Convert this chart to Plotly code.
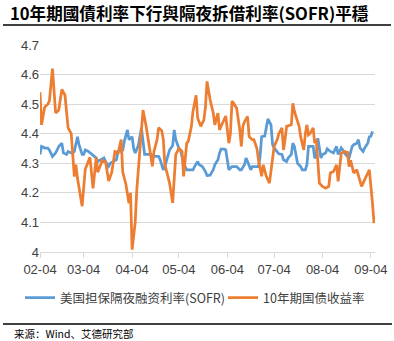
import plotly.graph_objects as go

YEAR = "2025-"

# 10Y Treasury yield (orange)
t10_dates = ["02-04","02-05","02-07","02-09","02-10","02-12","02-14","02-16","02-18","02-20","02-22","02-24","02-26","02-27","02-28",
             "03-03","03-05","03-08","03-10","03-12","03-13","03-16","03-18","03-20","03-22","03-24","03-26","03-28","03-29","03-31",
             "04-02","04-03","04-04","04-06","04-07","04-09","04-11","04-13","04-15","04-17","04-18","04-20","04-21","04-23","04-24","04-25","04-27","04-28","04-30",
             "05-02","05-04","05-06","05-07","05-09","05-10","05-12","05-13","05-15","05-16","05-18","05-20","05-21","05-22","05-24","05-26","05-27","05-29","05-30","05-31",
             "06-02","06-03","06-05","06-06","06-07","06-08","06-10","06-12","06-13","06-14","06-15","06-17","06-18","06-20","06-21","06-23","06-24","06-26","06-27","06-29",
             "07-01","07-02","07-04","07-06","07-07","07-09","07-10","07-11","07-12","07-15","07-16","07-17","07-18","07-20","07-21","07-23","07-24","07-25","07-26","07-27","07-29","07-30","07-31",
             "08-01","08-02","08-04","08-06","08-08","08-09","08-11","08-13","08-14","08-15","08-16","08-18","08-20","08-21","08-22","08-23","08-24","08-26","08-27","08-29","08-30",
             "09-01","09-03","09-05","09-06"]
t10_vals = [4.54,4.43,4.49,4.50,4.51,4.62,4.47,4.48,4.55,4.53,4.42,4.40,4.255,4.295,4.25,
            4.155,4.28,4.32,4.215,4.32,4.27,4.31,4.305,4.24,4.27,4.34,4.335,4.38,4.27,4.23,
            4.165,4.20,4.008,4.10,4.21,4.345,4.48,4.425,4.357,4.29,4.34,4.38,4.42,4.41,4.38,4.295,4.255,4.233,4.166,
            4.33,4.35,4.34,4.256,4.368,4.374,4.425,4.475,4.53,4.453,4.425,4.447,4.49,4.577,4.515,4.47,4.43,4.47,4.413,4.425,
            4.453,4.46,4.368,4.40,4.51,4.504,4.486,4.413,4.357,4.425,4.44,4.458,4.39,4.38,4.38,4.35,4.31,4.256,4.295,4.256,
            4.233,4.278,4.357,4.38,4.40,4.42,4.345,4.38,4.425,4.43,4.503,4.475,4.46,4.425,4.39,4.345,4.40,4.43,4.396,4.40,4.42,4.368,4.38,
            4.30,4.233,4.222,4.216,4.222,4.267,4.272,4.295,4.239,4.289,4.334,4.34,4.337,4.289,4.31,4.289,4.267,4.278,4.256,4.222,4.233,
            4.256,4.278,4.166,4.098]

# SOFR (blue)
sofr_dates = ["02-04","02-05","02-06","02-07","02-09","02-10","02-12","02-14","02-15","02-16","02-18","02-19","02-21","02-22","02-24","02-25","02-26","02-28",
              "03-01","03-03","03-04","03-05","03-07","03-09","03-10","03-12","03-13","03-15","03-17","03-18","03-20","03-21","03-23","03-25","03-26","03-28","03-29","03-30",
              "04-01","04-02","04-04","04-05","04-06","04-08","04-10","04-11","04-12","04-13","04-16","04-17","04-19","04-21","04-22","04-24","04-25","04-27","04-28","04-30",
              "05-01","05-02","05-04","05-05","05-06","05-07","05-09","05-11","05-13","05-14","05-16","05-17","05-19","05-21","05-22","05-24","05-26","05-27","05-29","05-30","05-31",
              "06-02","06-03","06-04","06-05","06-07","06-09","06-10","06-12","06-13","06-15","06-16","06-17","06-19","06-20","06-23","06-24","06-25","06-26","06-28","06-29","06-30",
              "07-02","07-03","07-04","07-06","07-07","07-09","07-10","07-12","07-13","07-15","07-16","07-17","07-18","07-19","07-21","07-22","07-24","07-25","07-26","07-29","07-30","07-31",
              "08-01","08-02","08-03","08-04","08-06","08-07","08-09","08-11","08-12","08-13","08-14","08-16","08-17","08-18","08-20","08-21","08-23","08-24","08-26","08-27","08-28","08-30","08-31",
              "09-02","09-03","09-04","09-05"]
sofr_vals = [4.33,4.357,4.355,4.351,4.351,4.345,4.323,4.335,4.345,4.357,4.368,4.335,4.33,4.34,4.335,4.335,4.34,4.39,
             4.363,4.33,4.33,4.345,4.34,4.332,4.325,4.318,4.306,4.312,4.318,4.306,4.29,4.30,4.306,4.312,4.34,4.34,4.345,4.374,
             4.413,4.38,4.39,4.35,4.335,4.36,4.42,4.38,4.33,4.33,4.33,4.323,4.323,4.323,4.312,4.278,4.289,4.323,4.345,4.36,
             4.413,4.38,4.35,4.345,4.323,4.30,4.278,4.278,4.278,4.289,4.306,4.295,4.289,4.272,4.259,4.26,4.278,4.295,4.312,4.334,4.348,
             4.348,4.345,4.312,4.278,4.289,4.289,4.289,4.278,4.278,4.295,4.318,4.306,4.278,4.289,4.289,4.289,4.323,4.39,4.392,4.425,4.45,
             4.43,4.363,4.352,4.34,4.332,4.33,4.312,4.306,4.318,4.33,4.368,4.357,4.33,4.30,4.289,4.278,4.278,4.295,4.357,4.357,4.318,4.323,
             4.385,4.357,4.318,4.33,4.335,4.349,4.34,4.335,4.345,4.357,4.33,4.352,4.345,4.335,4.323,4.318,4.357,4.363,4.368,4.38,4.352,4.34,4.352,
             4.368,4.39,4.392,4.408]

tick_labels = ["02-04","03-04","04-04","05-04","06-04","07-04","08-04","09-04"]

W, H = 394, 341
ML, MR, MT, MB = 40, 19, 45, 89
PW, PH = W - ML - MR, H - MT - MB

def px_x(p):
    return (p - ML) / PW

def px_y(p):
    return (H - MB - p) / PH

fig = go.Figure()
fig.add_trace(go.Scatter(x=[YEAR + d for d in sofr_dates], y=sofr_vals, mode="lines",
                         name="美国担保隔夜融资利率(SOFR)", legend="legend",
                         line=dict(color="#5B9BD5", width=2.75)))
fig.add_trace(go.Scatter(x=[YEAR + d for d in t10_dates], y=t10_vals, mode="lines",
                         name="10年期国债收益率", legend="legend2",
                         line=dict(color="#ED7D31", width=2.75)))

tick_font = dict(family="Liberation Sans, Arial, sans-serif", size=13, color="#404040")
leg_font = dict(family="Noto Sans CJK SC", size=12.5, color="#404040")

fig.update_layout(
    width=W, height=H,
    margin=dict(l=ML, r=MR, t=MT, b=MB, autoexpand=False),
    paper_bgcolor="white", plot_bgcolor="white",
    showlegend=True,
    title=dict(text="10年期國債利率下行與隔夜拆借利率(SOFR)平穩",
               font=dict(family="Noto Sans CJK TC", size=16.6, color="#000000", weight="bold"),
               x=10 / W, xanchor="left", xref="container",
               y=1 - 14 / H, yanchor="middle", yref="container"),
    legend=dict(orientation="h", xref="container", yref="container",
                x=20 / W, xanchor="left", y=1 - 298 / H, yanchor="middle",
                font=leg_font, bgcolor="rgba(0,0,0,0)"),
    legend2=dict(orientation="h", xref="container", yref="container",
                 x=223 / W, xanchor="left", y=1 - 298 / H, yanchor="middle",
                 font=leg_font, bgcolor="rgba(0,0,0,0)"),
    xaxis=dict(type="date",
               range=["2025-02-04", "2025-09-06 15:00"],
               tickvals=[YEAR + t for t in tick_labels], ticktext=tick_labels,
               showgrid=False, showline=True, linecolor="#d9d9d9", linewidth=1,
               ticks="outside", ticklen=5, tickcolor="#d9d9d9",
               tickfont=tick_font, zeroline=False, fixedrange=True),
    yaxis=dict(range=[4, 4.7], dtick=0.1, tick0=4,
               showgrid=True, gridcolor="#d9d9d9", gridwidth=1,
               showline=False, zeroline=False, ticks="",
               tickfont=tick_font, fixedrange=True),
    shapes=[
        dict(type="line", xref="paper", yref="paper",
             x0=px_x(3), x1=px_x(391), y0=px_y(25), y1=px_y(25),
             line=dict(color="#000000", width=1.5)),
        dict(type="line", xref="paper", yref="paper",
             x0=px_x(3), x1=px_x(392), y0=px_y(324), y1=px_y(324),
             line=dict(color="#000000", width=1.5)),
    ],
    annotations=[
        dict(text="来源：Wind、艾德研究部", xref="paper", yref="paper",
             x=px_x(12), y=px_y(333), xanchor="left", yanchor="middle",
             showarrow=False,
             font=dict(family="Noto Sans CJK SC", size=10.5, color="#000000")),
    ],
)

fig.write_html("out.html")
